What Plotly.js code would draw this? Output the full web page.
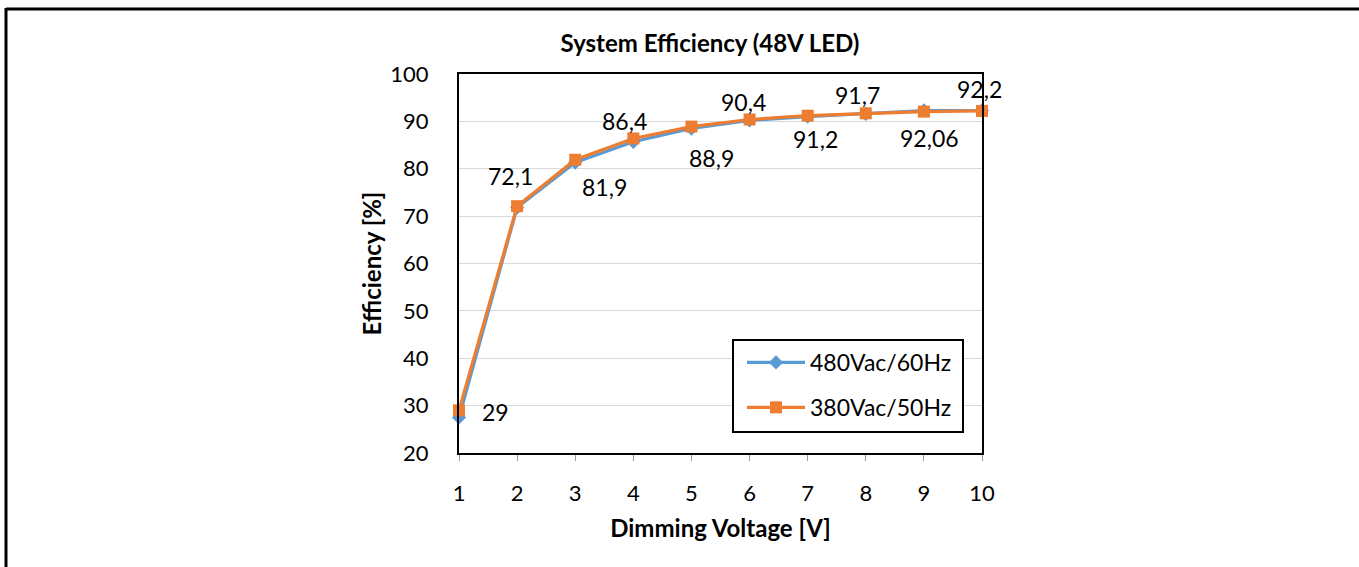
<!DOCTYPE html>
<html>
<head>
<meta charset="utf-8">
<script src="https://cdn.plot.ly/plotly-3.0.1.min.js"></script>
<style>
  html, body { margin: 0; padding: 0; background: #fff; }
  #chart { width: 1359px; height: 567px; }
</style>
</head>
<body>
<div id="chart"></div>
<script>
// ---- data ----
const dimmingVoltage = [1, 2, 3, 4, 5, 6, 7, 8, 9, 10];
const eff480 = [27.5, 71.8, 81.3, 85.7, 88.5, 90.2, 91.0, 91.6, 92.3, 92.3];
const eff380 = [29, 72.1, 81.9, 86.4, 88.9, 90.4, 91.2, 91.7, 92.06, 92.2];
const seriesNames = ['480Vac/60Hz', '380Vac/50Hz'];
const xTicks = [1, 2, 3, 4, 5, 6, 7, 8, 9, 10];
const yTicks = [20, 30, 40, 50, 60, 70, 80, 90, 100];

// label offsets in pixels (style only)
const labelDx = [36, -7, 29, -9, 20, -6, 8, -8, 6, -3];
const labelDy = [-2, 30, -27, 17, -31, 17, -23, 18, -26, 22];

const FONT = 'Lato, "Open Sans", sans-serif';

// plot area pixel geometry
const W = 1359, H = 567;
const L = 459, R = 982, T = 74, B = 453;
const px = x => (x - L) / (R - L);
const py = y => (B - y) / (B - T);

const traces = [
  {
    x: dimmingVoltage, y: eff480, name: seriesNames[0], legendgroup: 'a',
    type: 'scatter', mode: 'lines+markers',
    line: { color: '#5B9BD5', width: 3.2 },
    marker: { symbol: 'diamond', size: 11, color: '#5B9BD5' },
    cliponaxis: false
  },
  {
    x: dimmingVoltage, y: eff380, name: seriesNames[1], legendgroup: 'b',
    type: 'scatter', mode: 'lines+markers',
    line: { color: '#ED7D31', width: 3.2 },
    marker: { symbol: 'square', size: 12, color: '#ED7D31' },
    cliponaxis: false
  }
];

const annotations = dimmingVoltage.map((x, i) => ({
  x: x, y: eff380[i], xref: 'x', yref: 'y',
  text: String(eff380[i]).replace('.', ','),
  showarrow: false,
  xshift: labelDx[i], yshift: labelDy[i],
  font: { family: FONT, size: 23, color: '#000' }
}));

const shapes = [
  // outer frame (top and left edges)
  { type: 'line', xref: 'paper', yref: 'paper',
    x0: px(6), x1: px(1365), y0: py(9), y1: py(9),
    line: { color: '#000', width: 3 } },
  { type: 'line', xref: 'paper', yref: 'paper',
    x0: px(6), x1: px(6), y0: py(8), y1: py(580),
    line: { color: '#000', width: 3 } },
  // legend box
  { type: 'rect', xref: 'paper', yref: 'paper', layer: 'above',
    x0: px(733), x1: px(963), y0: py(340), y1: py(432),
    fillcolor: '#fff', line: { color: '#000', width: 2 } }
];

const layout = {
  width: W, height: H,
  margin: { l: L, r: W - R, t: T, b: H - B, pad: 0 },
  paper_bgcolor: '#fff', plot_bgcolor: '#fff',
  showlegend: true,
  title: {
    text: '<b>System Efficiency (48V LED)</b>',
    font: { family: FONT, size: 24, color: '#000' },
    x: px(710), xref: 'paper', xanchor: 'center',
    y: 1 - 44 / H, yref: 'container', yanchor: 'middle'
  },
  xaxis: {
    range: [1, 10], tickvals: xTicks, ticktext: xTicks.map(String),
    showgrid: false, zeroline: false,
    showline: true, linecolor: '#000', linewidth: 2, mirror: true,
    ticks: 'outside', ticklen: 6, tickcolor: '#999', tickwidth: 1,
    ticklabelstandoff: 14,
    tickfont: { family: FONT, size: 22, color: '#000' },
    title: { text: '<b>Dimming Voltage [V]</b>', font: { family: FONT, size: 24, color: '#000' }, standoff: 15 }
  },
  yaxis: {
    range: [20, 100], tickvals: yTicks, ticktext: yTicks.map(String),
    showgrid: true, gridcolor: '#d9d9d9', gridwidth: 1,
    zeroline: false,
    showline: true, linecolor: '#000', linewidth: 2, mirror: true,
    ticks: '', ticklabelstandoff: 24,
    tickfont: { family: FONT, size: 22, color: '#000' },
    title: { text: '<b>Efficiency [%]</b>', font: { family: FONT, size: 24, color: '#000' }, standoff: 2 }
  },
  legend: {
    x: px(742), y: py(341), xanchor: 'left', yanchor: 'top',
    bgcolor: 'rgba(0,0,0,0)', borderwidth: 0,
    font: { family: FONT, size: 23, color: '#000' },
    traceorder: 'grouped', tracegroupgap: 12, itemwidth: 58
  },
  annotations: annotations,
  shapes: shapes
};

Plotly.newPlot('chart', traces, layout, { displayModeBar: false, staticPlot: true });
</script>
</body>
</html>
